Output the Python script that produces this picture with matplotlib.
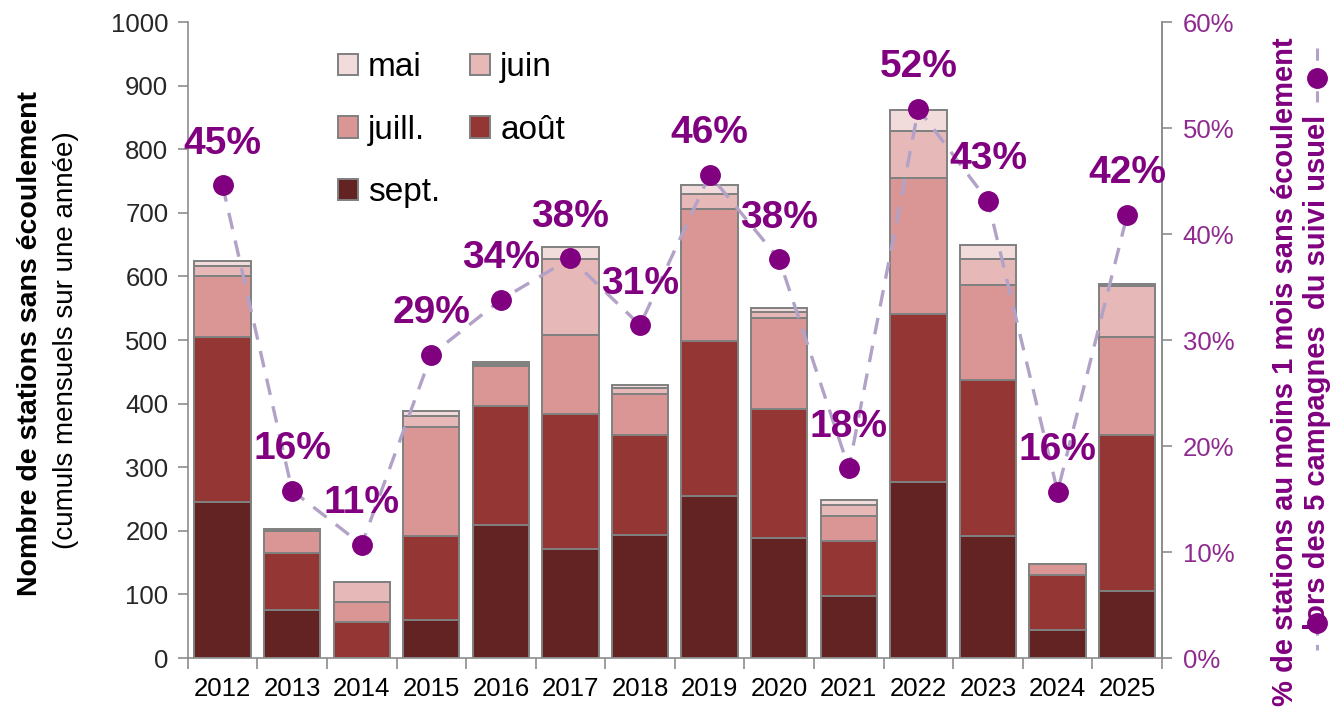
import numpy as np
import matplotlib.pyplot as plt
from matplotlib.lines import Line2D

plt.rcParams['font.family'] = ['Liberation Sans', 'DejaVu Sans']

years = ['2012', '2013', '2014', '2015', '2016', '2017', '2018',
         '2019', '2020', '2021', '2022', '2023', '2024', '2025']

# monthly counts of stations without flow, stacked from September upwards
sept = [246, 75, 0, 60, 209, 171, 193, 255, 188, 98, 276, 192, 44, 105]
aout = [259, 90, 56, 132, 188, 213, 158, 244, 204, 86, 265, 245, 86, 245]
juill = [95, 34, 32, 171, 62, 124, 64, 207, 143, 40, 214, 150, 18, 155]
juin = [16, 2, 31, 17, 4, 120, 9, 24, 9, 16, 74, 41, 0, 80]
mai = [8, 2, 0, 8, 2, 18, 6, 13, 6, 8, 32, 22, 0, 3]

# share of stations with at least one month without flow
pct = [0.446, 0.158, 0.107, 0.286, 0.338, 0.377, 0.314,
       0.456, 0.376, 0.179, 0.518, 0.431, 0.157, 0.418]

month_names = ['sept.', 'août', 'juill.', 'juin', 'mai']
month_colors = ['#632323', '#943634', '#D99694', '#E6B9B8', '#F2DCDB']

purple = '#800080'
axis_grey = '#8c8c8c'

fig = plt.figure(figsize=(13.41, 7.1), dpi=100)
ax = fig.add_axes([0.140, 0.0732, 0.7265, 0.8958])

x = np.arange(len(years))
bottom = np.zeros(len(years))
bars = {}
for name, vals, col in zip(month_names, [sept, aout, juill, juin, mai], month_colors):
    bars[name] = ax.bar(x, vals, width=0.81, bottom=bottom, color=col,
                        edgecolor='#808080', linewidth=1.4, label=name, zorder=2)
    bottom += np.array(vals)

ax.set_xlim(-0.5, len(years) - 0.5)
ax.set_ylim(0, 1000)
ax.set_yticks(np.arange(0, 1001, 100))
ax.set_xticks(x)
ax.set_xticklabels(years)
ax.set_xticks(np.arange(-0.5, len(years)), minor=True)
ax.tick_params(axis='x', which='major', length=0, labelsize=18.5, pad=14)
ax.tick_params(axis='x', which='minor', length=8, width=1.2, color=axis_grey)
ax.tick_params(axis='y', length=7, width=1.2, color=axis_grey, labelsize=18.5,
               labelcolor='#262626', pad=7)
ax.spines['top'].set_visible(False)
for side in ['left', 'bottom', 'right']:
    ax.spines[side].set_color(axis_grey)
    ax.spines[side].set_linewidth(1.2)

# percentage line on the secondary axis
ax2 = ax.twinx()
ax2.plot(x, pct, color='#B3A2C7', linewidth=2.4, linestyle=(0, (5, 3.5)),
         marker='o', markersize=14, markerfacecolor=purple,
         markeredgecolor=purple, zorder=3)
for xi, p in zip(x, pct):
    ax2.annotate('{:.0%}'.format(p), (xi, p), xytext=(0, 30),
                 textcoords='offset points', ha='center', va='center',
                 fontsize=28, fontweight='bold', color=purple)
ax2.set_ylim(0, 0.6)
ax2.set_yticks(np.arange(0, 0.61, 0.1))
ax2.set_yticklabels(['{:.0f}%'.format(v * 100) for v in np.arange(0, 0.61, 0.1)])
ax2.tick_params(axis='y', length=7, width=1.2, color=axis_grey, labelsize=18.5,
                labelcolor='#8f2a8f', pad=8)
for side in ['top', 'left', 'bottom']:
    ax2.spines[side].set_visible(False)
ax2.spines['right'].set_color(axis_grey)
ax2.spines['right'].set_linewidth(1.2)

# legend laid out row by row: mai/juin, juill./août, sept.
order = ['mai', 'juill.', 'sept.', 'juin', 'août']
fig.legend([bars[n] for n in order], order, loc='upper left',
           bbox_to_anchor=(338 / 1341, 1 - 52 / 710), ncol=2, frameon=False,
           fontsize=24, handlelength=0.6, handleheight=0.6, handletextpad=0.3,
           columnspacing=0.9, labelspacing=0.95, borderpad=0, borderaxespad=0)

# axis titles
fig.text(30 / 1341, 1 - 344 / 710, 'Nombre de stations sans écoulement',
         rotation=90, ha='center', va='center', fontsize=20.5, fontweight='bold')
fig.text(66 / 1341, 1 - 340 / 710, '(cumuls mensuels sur une année)',
         rotation=90, ha='center', va='center', fontsize=20)
fig.text(1285 / 1341, 1 - 372 / 710,
         '% de stations au moins 1 mois sans écoulement',
         rotation=90, ha='center', va='center', fontsize=21,
         fontweight='bold', color=purple)
fig.text(1317 / 1341, 1 - 372 / 710, 'lors des 5 campagnes  du suivi usuel',
         rotation=90, ha='center', va='center', fontsize=21,
         fontweight='bold', color=purple)

# series keys beside the right-hand title
for y0, y1, ym in [(48, 102, 78), (623, 650, 623)]:
    fig.add_artist(Line2D([1317 / 1341, 1317 / 1341], [1 - y0 / 710, 1 - y1 / 710],
                          transform=fig.transFigure, color='#B3A2C7',
                          linewidth=2.2, linestyle=(0, (4, 3))))
    fig.add_artist(Line2D([1317 / 1341], [1 - ym / 710], transform=fig.transFigure,
                          marker='o', markersize=14, color=purple))

fig.savefig('out.png', dpi=100)
